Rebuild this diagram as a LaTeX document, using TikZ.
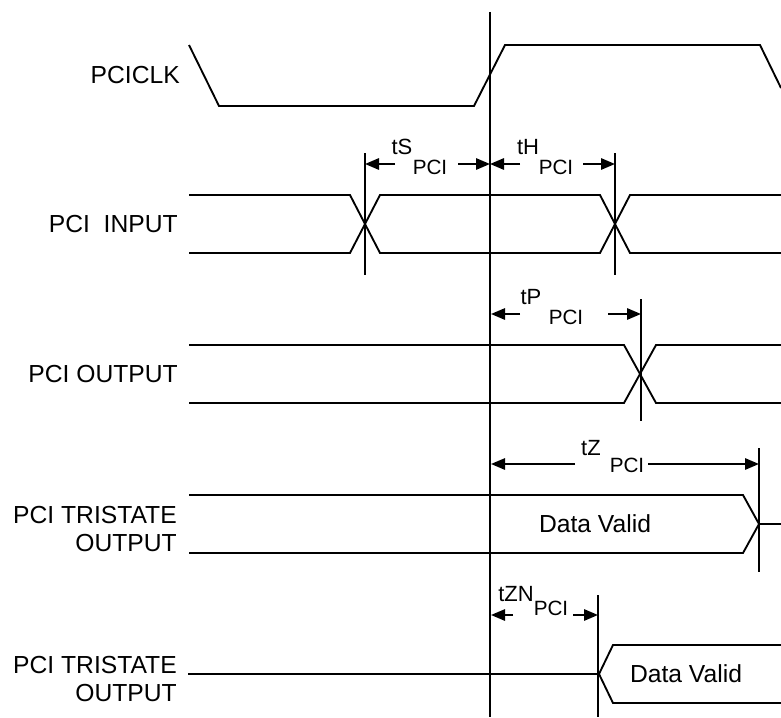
\documentclass[tikz,border=0pt]{standalone}
\usepackage{fontspec}
\setmainfont{Liberation Sans}
\usetikzlibrary{arrows.meta,positioning}
\begin{document}
\begin{tikzpicture}[x=0.75pt,y=-0.75pt,
  sig/.style={line width=1.4pt, line join=miter},
  refline/.style={line width=1.4pt},
  dimarrow/.style={line width=1.4pt, -{Triangle[length=10.5pt,width=8.5pt]}},
  siglabel/.style={font=\fontsize{18.5}{21}\selectfont, align=right, anchor=east, inner sep=0pt},
  tlabel/.style={font=\fontsize{16.5}{19}\selectfont, inner sep=0pt},
  tsub/.style={font=\fontsize{15.5}{18}\selectfont, inner sep=0pt},
  datalabel/.style={font=\fontsize{18.5}{21}\selectfont, inner sep=0pt}
]
\useasboundingbox (0,0) rectangle (781,717);

% reference edge and timing markers
\coordinate (ref top) at (490,12);     \coordinate (ref bot) at (490,717);
\coordinate (ts top) at (365,153);     \coordinate (ts bot) at (365,275);
\coordinate (th top) at (615,153);     \coordinate (th bot) at (615,275);
\coordinate (tp top) at (641,299);     \coordinate (tp bot) at (641,421);
\coordinate (tz top) at (759,448);     \coordinate (tz bot) at (759,572);
\coordinate (tzn top) at (598,595);    \coordinate (tzn bot) at (598,717);
\draw[refline] (ref top) -- (ref bot);
\draw[refline] (ts top) -- (ts bot);
\draw[refline] (th top) -- (th bot);
\draw[refline] (tp top) -- (tp bot);
\draw[refline] (tz top) -- (tz bot);
\draw[refline] (tzn top) -- (tzn bot);

% signal names
\node[siglabel] (clk) at (180,75) {PCICLK};
\node[siglabel] (in) at (178,224) {PCI\ \ INPUT};
\node[siglabel] (out) at (178,374) {PCI OUTPUT};
\node[siglabel] (tri1) at (177,529) {PCI TRISTATE\\OUTPUT};
\node[siglabel] (tri2) at (177,679) {PCI TRISTATE\\OUTPUT};

% PCICLK
\draw[sig] (189,45) -- (219,106) -- (474,106) -- (505,45) -- (760,45) -- (781,88);

% PCI INPUT
\draw[sig] (189,195) -- (350,195) -- (380,253) -- (600,253) -- (630,195) -- (781,195);
\draw[sig] (189,253) -- (350,253) -- (380,195) -- (600,195) -- (630,253) -- (781,253);

% PCI OUTPUT
\draw[sig] (189,345) -- (624,345) -- (656,403) -- (781,403);
\draw[sig] (189,403) -- (624,403) -- (656,345) -- (781,345);

% PCI TRISTATE OUTPUT (valid, then off)
\draw[sig] (189,495) -- (743,495) -- (759,524) -- (743,553) -- (189,553);
\draw[sig] (759,524) -- (781,524);
\node[datalabel] (valid1) at (595,524) {Data Valid};

% PCI TRISTATE OUTPUT (off, then valid)
\draw[sig] (188,674) -- (599,674);
\draw[sig] (781,645) -- (613,645) -- (599,674) -- (613,703) -- (781,703);
\node[datalabel] (valid2) at (686,674) {Data Valid};

% tS / tH
\coordinate (ts l) at (395,164);  \coordinate (ts tip) at (365,164);
\coordinate (ts r) at (458,164);  \coordinate (ref ts) at (490,164);
\coordinate (th l) at (520,164);  \coordinate (th r) at (583,164);
\coordinate (th tip) at (615,164);
\draw[dimarrow] (ts l) -- (ts tip);
\draw[dimarrow] (ts r) -- (ref ts);
\draw[dimarrow] (th l) -- (ref ts);
\draw[dimarrow] (th r) -- (th tip);
\node[tlabel] (ts) at (402,147) {tS};
\node[tsub] (ts sub) at (430,167) {PCI};
\node[tlabel] (th) at (528,147) {tH};
\node[tsub] (th sub) at (556,167) {PCI};

% tP
\coordinate (tp l) at (520,314);  \coordinate (ref tp) at (491,314);
\coordinate (tp r) at (608,314);  \coordinate (tp tip) at (641,314);
\draw[dimarrow] (tp l) -- (ref tp);
\draw[dimarrow] (tp r) -- (tp tip);
\node[tlabel] (tp) at (531,297) {tP};
\node[tsub] (tp sub) at (566,317) {PCI};

% tZ
\coordinate (tz l) at (575,464);  \coordinate (ref tz) at (491,464);
\coordinate (tz r) at (648,464);  \coordinate (tz tip) at (759,464);
\draw[dimarrow] (tz l) -- (ref tz);
\draw[dimarrow] (tz r) -- (tz tip);
\node[tlabel] (tz) at (591,448) {tZ};
\node[tsub] (tz sub) at (627,465) {PCI};

% tZN
\coordinate (tzn l) at (513,615); \coordinate (ref tzn) at (491,615);
\coordinate (tzn r) at (573,615); \coordinate (tzn tip) at (598,615);
\draw[dimarrow] (tzn l) -- (ref tzn);
\draw[dimarrow] (tzn r) -- (tzn tip);
\node[tlabel] (tzn) at (516,594) {tZN};
\node[tsub] (tzn sub) at (551,608) {PCI};
\end{tikzpicture}
\end{document}
